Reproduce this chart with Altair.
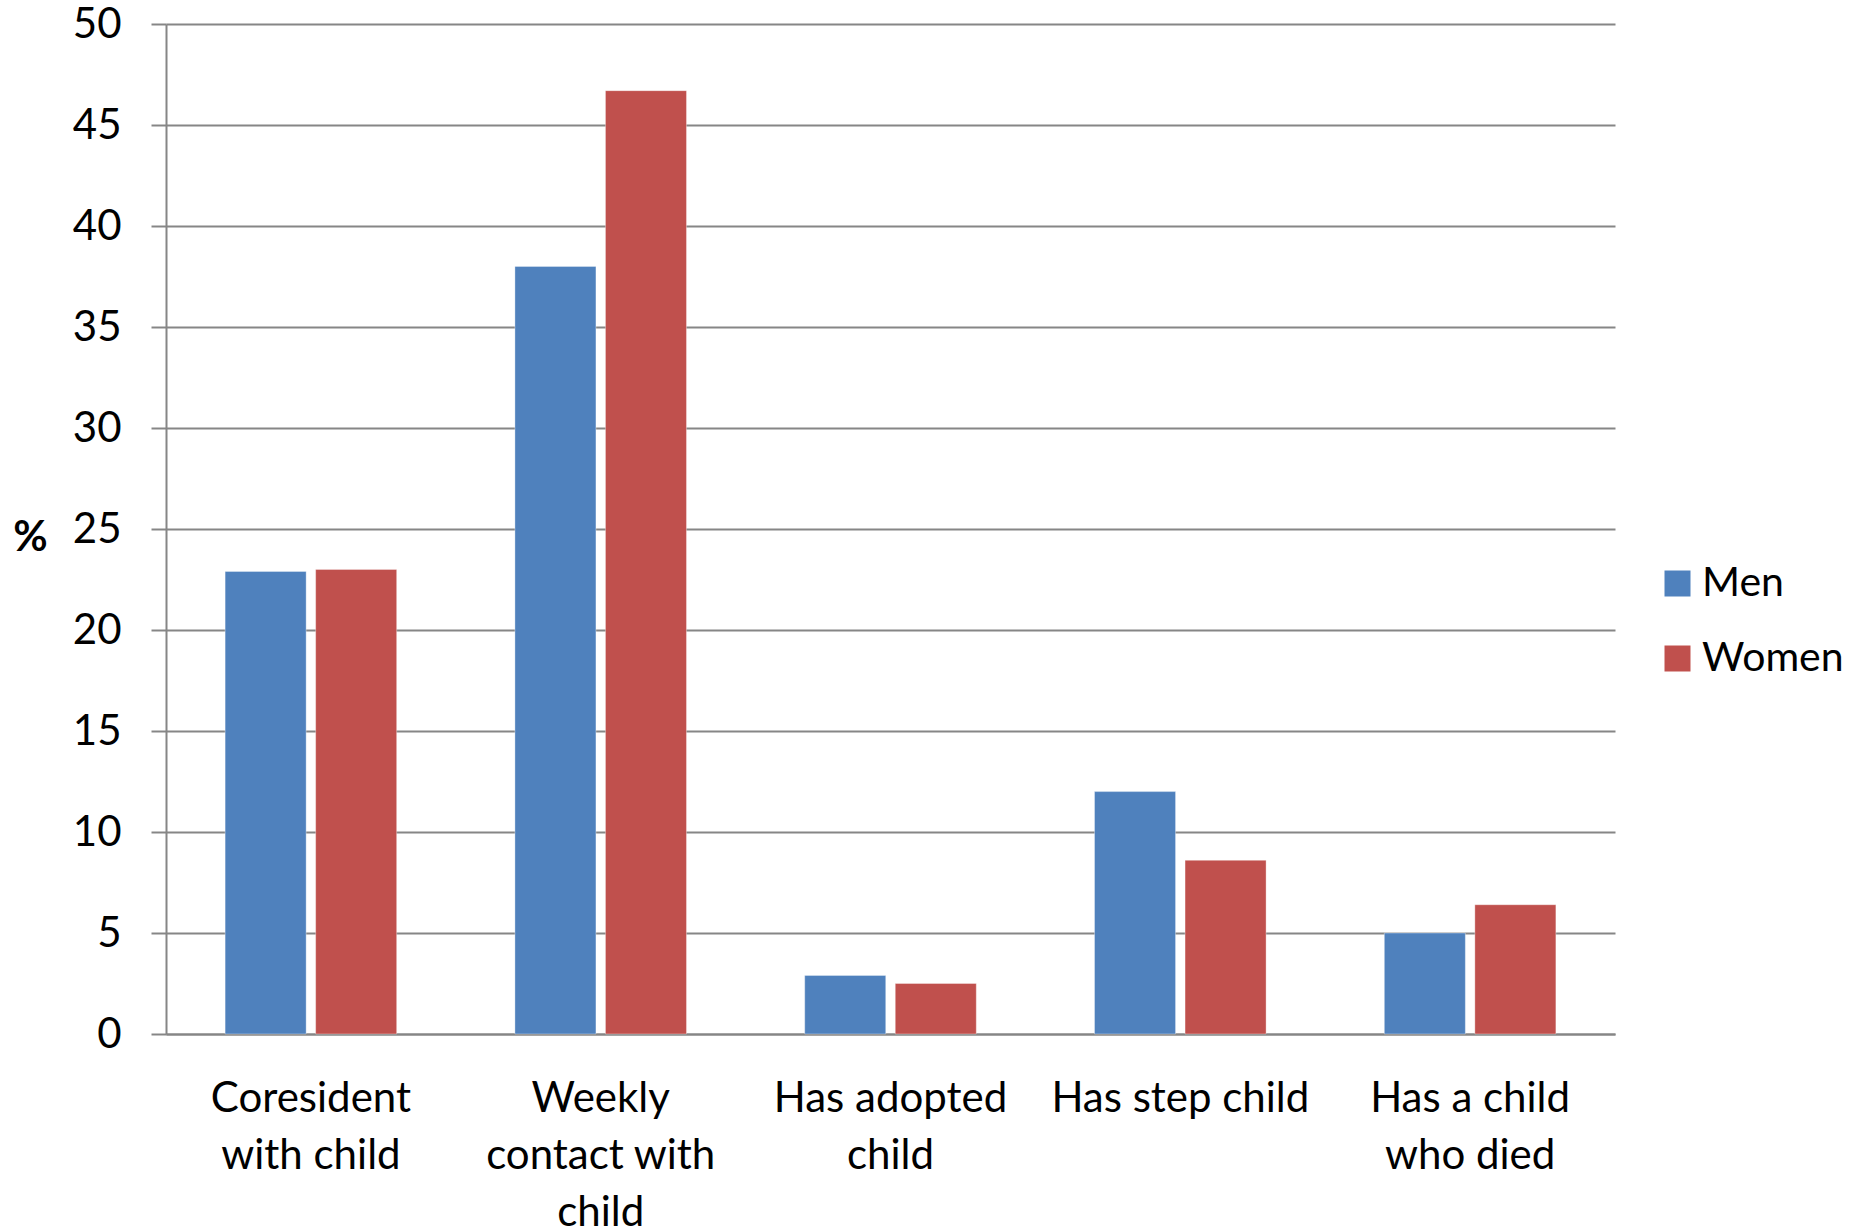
import altair as alt
import pandas as pd

categories = ["Coresident\nwith child", "Weekly\ncontact with\nchild", "Has adopted\nchild", "Has step child", "Has a child\nwho died"]
men = [22.9, 38.0, 2.9, 12.0, 5.0]
women = [23.0, 46.7, 2.5, 8.6, 6.4]
series = ["Men", "Women"]
colors = ["#4F81BD", "#C0504D"]

rows = []
for c, m, w in zip(categories, men, women):
    rows.append({"cat": c, "sex": "Men", "value": m})
    rows.append({"cat": c, "sex": "Women", "value": w})
df = pd.DataFrame(rows)

FONT = "Lato"
GRAY = "#868686"

chart = alt.Chart(df).mark_bar(stroke="#ffffff", strokeOpacity=0.35, strokeWidth=1).encode(
    x=alt.X("cat:N", sort=categories, title=None,
            scale=alt.Scale(paddingInner=0.408, paddingOuter=0.204),
            axis=alt.Axis(labelAngle=0, labelExpr="split(datum.label, '\\n')",
                          labelFont=FONT, labelFontSize=42, labelColor="#000000",
                          labelLineHeight=57, labelPadding=44, labelBaseline="top",
                          ticks=False, domainColor=GRAY, domainWidth=2,
                          grid=False, labelLimit=400)),
    xOffset=alt.XOffset("sex:N", sort=series,
                        scale=alt.Scale(paddingInner=0.105, paddingOuter=0)),
    y=alt.Y("value:Q", title="%",
            scale=alt.Scale(domain=[0, 50], nice=False),
            axis=alt.Axis(values=list(range(0, 55, 5)), tickSize=15, tickColor=GRAY,
                          tickWidth=2, domainColor=GRAY, domainWidth=2,
                          gridColor=GRAY, gridWidth=2,
                          labelFont=FONT, labelFontSize=42, labelColor="#000000",
                          labelPadding=30,
                          titleFont=FONT, titleFontSize=42, titleFontWeight="bold",
                          titleColor="#000000", titleAngle=0, titleAlign="center",
                          titleBaseline="middle", titleX=-136, titleY=513)),
    color=alt.Color("sex:N", sort=series,
                    scale=alt.Scale(domain=series, range=colors),
                    legend=alt.Legend(title=None, orient="none", legendX=1491, legendY=539,
                                      symbolType="square", symbolSize=676,
                                      symbolStrokeWidth=0,
                                      labelFont=FONT, labelFontSize=41, labelColor="#000000",
                                      labelOffset=4, rowPadding=33)),
).properties(
    width=1449, height=1010,
    background="#ffffff",
    autosize=alt.AutoSizeParams(type="none"),
    padding={"left": 166, "top": 24, "right": 245, "bottom": 198},
).configure_view(strokeWidth=0, stroke="transparent")

chart.save("out.html", embed_options={"renderer": "svg", "actions": False})
